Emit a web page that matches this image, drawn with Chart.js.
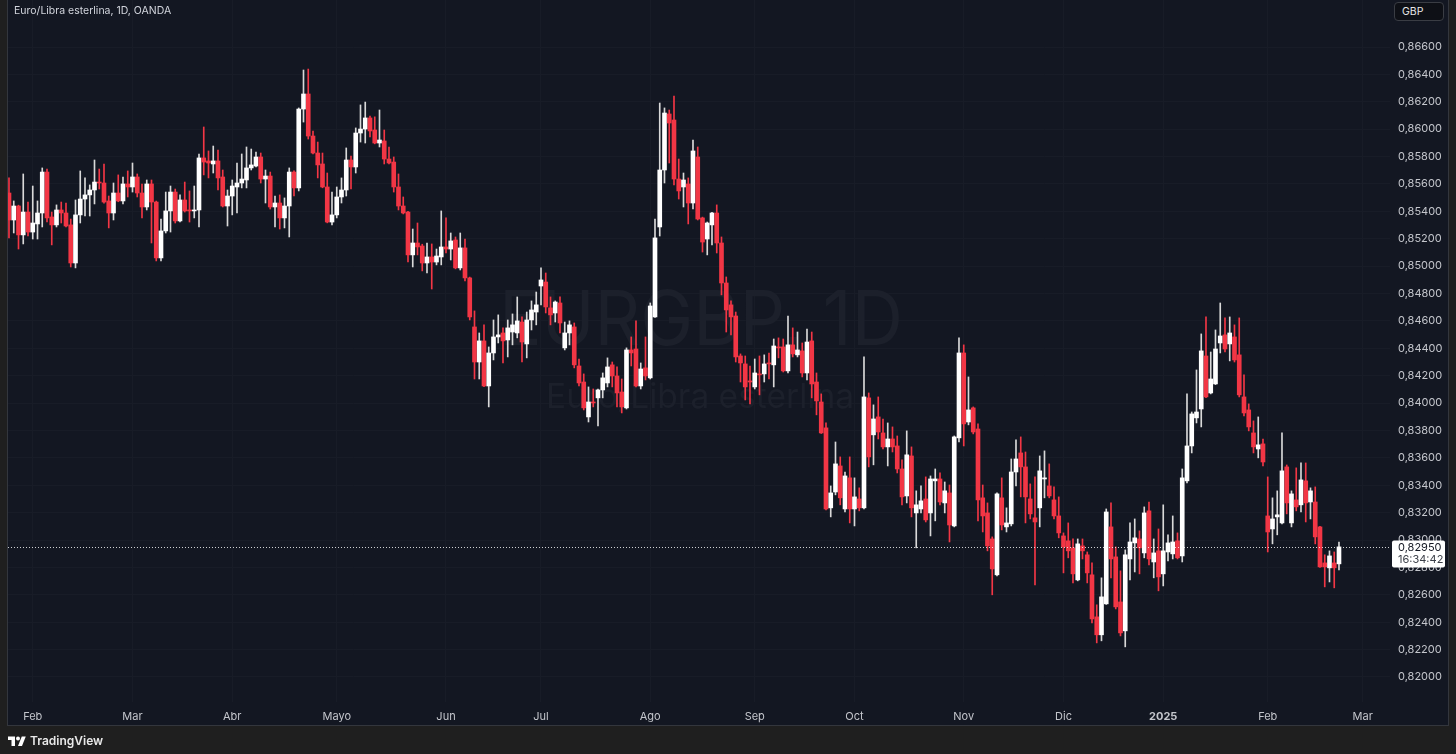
<!DOCTYPE html>
<html>
<head>
<meta charset="utf-8">
<title>EURGBP 1D</title>
<script src="https://cdn.jsdelivr.net/npm/chart.js@4.4.1/dist/chart.umd.min.js"></script>
<style>
  html, body { margin: 0; padding: 0; background: #1f1f1f; overflow: hidden; }
  #wrap { position: relative; width: 1456px; height: 754px; }
  #chart { position: absolute; left: 0; top: 0; }
  #title { position: absolute; left: 14px; top: 4px; font: 10.5px Inter, sans-serif; color: #d1d4dc; }
  #currency { position: absolute; left: 1394px; top: 2px; width: 50px; height: 19px; box-sizing: border-box;
              border: 1px solid #3a3d44; border-radius: 4px; background: #0e1016; color: #e6e6e6;
              font: 10.5px Inter, sans-serif; line-height: 17px; padding-left: 7px; }
  #brand { position: absolute; left: 8px; top: 733px; font: 600 12px Inter, sans-serif; color: #e8e8e8;
           display: flex; align-items: center; gap: 4px; }
</style>
</head>
<body>
<div id="wrap">
  <canvas id="chart" width="1456" height="754"></canvas>
  <div id="title">Euro/Libra esterlina, 1D, OANDA</div>
  <div id="currency">GBP</div>
  <div id="brand">
    <svg width="18" height="12" viewBox="0 0 36 24"><path d="M14 22H7V10H0V3h14v19z" fill="#fff"/><circle cx="20" cy="7" r="4" fill="#fff"/><path d="M28 22h-8l7.5-19h8L28 22z" fill="#fff"/></svg>
    <span>TradingView</span>
  </div>
</div>
<script>
// Daily candles, 25 Jan 2024 -> 24 Feb 2025 (OANDA EURGBP)
const opens = [
  0.85534, 0.85337, 0.85439, 0.85228, 0.85395, 0.85249, 0.85308, 0.85388, 0.85687, 0.85359,
  0.85301, 0.85410, 0.85388, 0.85301, 0.85023, 0.85374, 0.85490, 0.85520, 0.85556, 0.85614,
  0.85607, 0.85476, 0.85388, 0.85534, 0.85476, 0.85600, 0.85578, 0.85651, 0.85534, 0.85432,
  0.85600, 0.85468, 0.85060, 0.85257, 0.85403, 0.85541, 0.85330, 0.85483, 0.85410, 0.85403,
  0.85410, 0.85790, 0.85768, 0.85746, 0.85768, 0.85651, 0.85439, 0.85512, 0.85578, 0.85607,
  0.85629, 0.85717, 0.85731, 0.85797, 0.85636, 0.85658, 0.85432, 0.85461, 0.85352, 0.85439,
  0.85687, 0.85571, 0.86147, 0.86257, 0.85950, 0.85826, 0.85746, 0.85578, 0.85322, 0.85374,
  0.85505, 0.85556, 0.85775, 0.85724, 0.85972, 0.86001, 0.86082, 0.85994, 0.85899, 0.85914,
  0.85782, 0.85760, 0.85578, 0.85439, 0.85395, 0.85082, 0.85169, 0.85147, 0.85023, 0.85067,
  0.85030, 0.85067, 0.85140, 0.85125, 0.85191, 0.84987, 0.85133, 0.84914, 0.84556, 0.84300,
  0.84454, 0.84125, 0.84366, 0.84483, 0.84512, 0.84461, 0.84519, 0.84512, 0.84592, 0.84432,
  0.84607, 0.84665, 0.84855, 0.84884, 0.84695, 0.84658, 0.84731, 0.84403, 0.84512, 0.84556,
  0.84271, 0.84154, 0.83899, 0.84008, 0.84038, 0.84096, 0.84147, 0.84279, 0.84198, 0.84081,
  0.83965, 0.84388, 0.84395, 0.84125, 0.84257, 0.84184, 0.84629, 0.85286, 0.85702, 0.86111,
  0.86067, 0.85636, 0.85578, 0.85600, 0.85461, 0.85797, 0.85352, 0.85198, 0.85301, 0.85388,
  0.85169, 0.84877, 0.84717, 0.84636, 0.84344, 0.84286, 0.84162, 0.84118, 0.84213, 0.84213,
  0.84293, 0.84279, 0.84410, 0.84410, 0.84235, 0.84425, 0.84352, 0.84381, 0.84220, 0.84454,
  0.84154, 0.84008, 0.83819, 0.83235, 0.83351, 0.83541, 0.83227, 0.83454, 0.83227, 0.83300,
  0.83235, 0.84038, 0.83768, 0.83899, 0.83782, 0.83680, 0.83738, 0.83687, 0.83519, 0.83322,
  0.83614, 0.83198, 0.83227, 0.83300, 0.83198, 0.83432, 0.83446, 0.83271, 0.83344, 0.83103,
  0.83746, 0.84366, 0.83862, 0.83965, 0.83811, 0.83308, 0.83198, 0.83008, 0.82746, 0.83308,
  0.83096, 0.83118, 0.83497, 0.83636, 0.83534, 0.83300, 0.83162, 0.83235, 0.83446, 0.83395,
  0.83293, 0.83176, 0.83030, 0.82994, 0.82943, 0.82709, 0.82957, 0.82892, 0.82746, 0.82439,
  0.82308, 0.82534, 0.83096, 0.82877, 0.82548, 0.82337, 0.82862, 0.82979, 0.83008, 0.82906,
  0.83213, 0.82840, 0.82921, 0.82753, 0.82913, 0.82899, 0.82994, 0.82884, 0.83432, 0.83687,
  0.83892, 0.83957, 0.84344, 0.84074, 0.84140, 0.84439, 0.84498, 0.84432, 0.84483, 0.84352,
  0.84045, 0.83950, 0.83782, 0.83665, 0.83702, 0.83176, 0.83081, 0.83169, 0.83125, 0.83534,
  0.83125, 0.83293, 0.83257, 0.83432, 0.83278, 0.83278, 0.83096, 0.82833, 0.82797, 0.82833,
  0.82826
];
const highs = [
  0.85644, 0.85476, 0.85445, 0.85673, 0.85468, 0.85585, 0.85476, 0.85717, 0.85709, 0.85395,
  0.85447, 0.85468, 0.85461, 0.85344, 0.85483, 0.85695, 0.85644, 0.85593, 0.85775, 0.85709,
  0.85746, 0.85512, 0.85607, 0.85666, 0.85651, 0.85695, 0.85753, 0.85673, 0.85600, 0.85629,
  0.85629, 0.85475, 0.85344, 0.85541, 0.85585, 0.85563, 0.85520, 0.85614, 0.85549, 0.85585,
  0.85819, 0.86016, 0.85841, 0.85877, 0.85848, 0.85702, 0.85556, 0.85629, 0.85753, 0.85819,
  0.85870, 0.85855, 0.85833, 0.85826, 0.85702, 0.85687, 0.85512, 0.85520, 0.85498, 0.85717,
  0.85695, 0.86155, 0.86432, 0.86439, 0.85987, 0.85906, 0.85826, 0.85680, 0.85541, 0.85578,
  0.85644, 0.85863, 0.85804, 0.86009, 0.86177, 0.86198, 0.86096, 0.86090, 0.86140, 0.85994,
  0.85870, 0.85797, 0.85673, 0.85505, 0.85400, 0.85271, 0.85315, 0.85160, 0.85169, 0.85162,
  0.85125, 0.85403, 0.85352, 0.85242, 0.85213, 0.85242, 0.85198, 0.84920, 0.84673, 0.84512,
  0.84571, 0.84410, 0.84607, 0.84644, 0.84549, 0.84607, 0.84651, 0.84775, 0.84629, 0.84665,
  0.84746, 0.84811, 0.84987, 0.84950, 0.84775, 0.84746, 0.84775, 0.84592, 0.84600, 0.84585,
  0.84322, 0.84213, 0.84118, 0.84103, 0.84103, 0.84220, 0.84330, 0.84300, 0.84264, 0.84176,
  0.84403, 0.84483, 0.84600, 0.84293, 0.84483, 0.84731, 0.85344, 0.86191, 0.86155, 0.86140,
  0.86242, 0.85782, 0.85680, 0.85644, 0.85921, 0.85870, 0.85358, 0.85322, 0.85392, 0.85447,
  0.85213, 0.84921, 0.84746, 0.84665, 0.84359, 0.84344, 0.84271, 0.84322, 0.84344, 0.84352,
  0.84366, 0.84468, 0.84476, 0.84468, 0.84636, 0.84549, 0.84519, 0.84439, 0.84541, 0.84519,
  0.84220, 0.84067, 0.83855, 0.83395, 0.83716, 0.83607, 0.83497, 0.83607, 0.83454, 0.83381,
  0.84337, 0.84074, 0.83987, 0.84045, 0.83884, 0.83855, 0.83826, 0.83760, 0.83585, 0.83797,
  0.83680, 0.83359, 0.83395, 0.83461, 0.83468, 0.83519, 0.83490, 0.83424, 0.83402, 0.83760,
  0.84476, 0.84425, 0.84191, 0.83972, 0.83848, 0.83402, 0.83271, 0.83023, 0.83344, 0.83454,
  0.83235, 0.83592, 0.83731, 0.83753, 0.83643, 0.83410, 0.83461, 0.83614, 0.83651, 0.83556,
  0.83388, 0.83315, 0.83052, 0.83125, 0.83008, 0.83008, 0.83008, 0.82913, 0.82833, 0.82527,
  0.82724, 0.83227, 0.83271, 0.82950, 0.82775, 0.82928, 0.83125, 0.83154, 0.83067, 0.83242,
  0.83278, 0.83008, 0.83081, 0.83257, 0.83038, 0.83176, 0.83052, 0.83519, 0.84067, 0.83935,
  0.84242, 0.84505, 0.84629, 0.84373, 0.84534, 0.84731, 0.84622, 0.84629, 0.84571, 0.84622,
  0.84206, 0.83994, 0.83870, 0.83899, 0.83738, 0.83461, 0.83308, 0.83359, 0.83782, 0.83548,
  0.83359, 0.83527, 0.83563, 0.83563, 0.83381, 0.83388, 0.83100, 0.82892, 0.82921, 0.82913,
  0.82986
];
const lows = [
  0.85206, 0.85242, 0.85125, 0.85162, 0.85220, 0.85198, 0.85198, 0.85286, 0.85322, 0.85155,
  0.85286, 0.85315, 0.85286, 0.84994, 0.84987, 0.85315, 0.85366, 0.85366, 0.85454, 0.85563,
  0.85460, 0.85279, 0.85337, 0.85470, 0.85454, 0.85505, 0.85541, 0.85505, 0.85352, 0.85410,
  0.85169, 0.85038, 0.85038, 0.85242, 0.85249, 0.85315, 0.85322, 0.85395, 0.85322, 0.85352,
  0.85286, 0.85666, 0.85644, 0.85680, 0.85556, 0.85432, 0.85293, 0.85374, 0.85388, 0.85571,
  0.85571, 0.85702, 0.85725, 0.85607, 0.85461, 0.85417, 0.85286, 0.85271, 0.85279, 0.85213,
  0.85512, 0.85549, 0.86052, 0.85928, 0.85820, 0.85644, 0.85572, 0.85316, 0.85301, 0.85352,
  0.85461, 0.85512, 0.85563, 0.85680, 0.85906, 0.85899, 0.85943, 0.85893, 0.85870, 0.85746,
  0.85746, 0.85541, 0.85410, 0.85381, 0.85030, 0.84994, 0.85082, 0.84965, 0.84950, 0.84833,
  0.85009, 0.85009, 0.85096, 0.85045, 0.84980, 0.84972, 0.84892, 0.84607, 0.84176, 0.84176,
  0.84120, 0.83972, 0.84315, 0.84439, 0.84293, 0.84337, 0.84425, 0.84476, 0.84300, 0.84330,
  0.84534, 0.84571, 0.84717, 0.84658, 0.84571, 0.84592, 0.84512, 0.84388, 0.84425, 0.84257,
  0.84125, 0.83950, 0.83862, 0.83972, 0.83833, 0.84038, 0.84118, 0.84118, 0.83972, 0.83928,
  0.83957, 0.84271, 0.84118, 0.84103, 0.84169, 0.84176, 0.84625, 0.85220, 0.85607, 0.85753,
  0.85593, 0.85490, 0.85432, 0.85308, 0.85417, 0.85337, 0.85103, 0.85082, 0.85155, 0.85096,
  0.84790, 0.84519, 0.84498, 0.84300, 0.84154, 0.84023, 0.83994, 0.84103, 0.84060, 0.84154,
  0.84176, 0.84118, 0.84330, 0.84227, 0.84220, 0.84337, 0.84337, 0.84191, 0.84169, 0.84038,
  0.83914, 0.83778, 0.83220, 0.83169, 0.83330, 0.83257, 0.83205, 0.83125, 0.83103, 0.83213,
  0.83227, 0.83534, 0.83549, 0.83738, 0.83665, 0.83541, 0.83643, 0.83490, 0.83257, 0.83271,
  0.83169, 0.82943, 0.83198, 0.83132, 0.83030, 0.83140, 0.83257, 0.83198, 0.82986, 0.83096,
  0.83716, 0.83687, 0.83841, 0.83775, 0.83140, 0.83059, 0.82921, 0.82600, 0.82738, 0.83074,
  0.83059, 0.83103, 0.83395, 0.83315, 0.83125, 0.83154, 0.82673, 0.83096, 0.83308, 0.83308,
  0.83154, 0.83016, 0.82760, 0.82870, 0.82687, 0.82702, 0.82862, 0.82687, 0.82395, 0.82249,
  0.82264, 0.82530, 0.82724, 0.82497, 0.82300, 0.82220, 0.82709, 0.82767, 0.82753, 0.82870,
  0.82819, 0.82724, 0.82629, 0.82665, 0.82848, 0.82862, 0.82862, 0.82840, 0.83417, 0.83636,
  0.83855, 0.83826, 0.84040, 0.84067, 0.84135, 0.84366, 0.84373, 0.84308, 0.84300, 0.84045,
  0.83906, 0.83797, 0.83636, 0.83600, 0.83541, 0.82913, 0.82972, 0.83038, 0.83118, 0.83191,
  0.83096, 0.83213, 0.83205, 0.83132, 0.83154, 0.82972, 0.82800, 0.82658, 0.82694, 0.82651,
  0.82782
];
const closes = [
  0.85337, 0.85439, 0.85228, 0.85395, 0.85249, 0.85315, 0.85388, 0.85687, 0.85352, 0.85301,
  0.85410, 0.85388, 0.85293, 0.85023, 0.85374, 0.85490, 0.85520, 0.85556, 0.85614, 0.85607,
  0.85468, 0.85388, 0.85534, 0.85476, 0.85600, 0.85578, 0.85651, 0.85534, 0.85432, 0.85600,
  0.85468, 0.85060, 0.85257, 0.85403, 0.85541, 0.85330, 0.85483, 0.85403, 0.85403, 0.85410,
  0.85790, 0.85760, 0.85753, 0.85768, 0.85644, 0.85439, 0.85512, 0.85585, 0.85607, 0.85636,
  0.85717, 0.85739, 0.85797, 0.85636, 0.85658, 0.85432, 0.85461, 0.85352, 0.85439, 0.85687,
  0.85571, 0.86147, 0.86257, 0.85950, 0.85826, 0.85739, 0.85578, 0.85322, 0.85374, 0.85505,
  0.85556, 0.85775, 0.85724, 0.85972, 0.86001, 0.86082, 0.85987, 0.85899, 0.85921, 0.85782,
  0.85753, 0.85578, 0.85439, 0.85388, 0.85082, 0.85169, 0.85140, 0.85023, 0.85067, 0.85030,
  0.85074, 0.85140, 0.85125, 0.85184, 0.84987, 0.85133, 0.84914, 0.84629, 0.84300, 0.84454,
  0.84125, 0.84366, 0.84483, 0.84498, 0.84454, 0.84549, 0.84571, 0.84600, 0.84446, 0.84607,
  0.84680, 0.84717, 0.84899, 0.84702, 0.84644, 0.84738, 0.84585, 0.84512, 0.84571, 0.84279,
  0.84147, 0.83965, 0.84008, 0.84001, 0.84096, 0.84184, 0.84264, 0.84198, 0.84074, 0.83972,
  0.84388, 0.84366, 0.84125, 0.84249, 0.84198, 0.84709, 0.85206, 0.85702, 0.86118, 0.86045,
  0.85636, 0.85549, 0.85629, 0.85461, 0.85841, 0.85344, 0.85176, 0.85315, 0.85388, 0.85169,
  0.84877, 0.84680, 0.84629, 0.84337, 0.84293, 0.84118, 0.84154, 0.84220, 0.84206, 0.84286,
  0.84286, 0.84417, 0.84403, 0.84235, 0.84425, 0.84359, 0.84388, 0.84220, 0.84446, 0.84140,
  0.84016, 0.83782, 0.83227, 0.83344, 0.83556, 0.83308, 0.83468, 0.83227, 0.83315, 0.83235,
  0.84045, 0.83607, 0.83884, 0.83789, 0.83680, 0.83738, 0.83680, 0.83519, 0.83315, 0.83622,
  0.83235, 0.83257, 0.83286, 0.83147, 0.83446, 0.83446, 0.83278, 0.83359, 0.83110, 0.83753,
  0.84366, 0.83848, 0.83950, 0.83789, 0.83293, 0.83176, 0.82957, 0.82789, 0.83337, 0.83110,
  0.83125, 0.83497, 0.83592, 0.83534, 0.83315, 0.83191, 0.83132, 0.83505, 0.83454, 0.83322,
  0.83176, 0.83052, 0.82950, 0.82921, 0.82753, 0.82972, 0.82921, 0.82760, 0.82424, 0.82308,
  0.82585, 0.83205, 0.82862, 0.82512, 0.82322, 0.82892, 0.82986, 0.83016, 0.82943, 0.83198,
  0.82862, 0.82906, 0.82731, 0.82921, 0.82979, 0.82986, 0.82870, 0.83454, 0.83687, 0.83921,
  0.83935, 0.84381, 0.84045, 0.84176, 0.84395, 0.84490, 0.84395, 0.84512, 0.84315, 0.84060,
  0.83928, 0.83826, 0.83680, 0.83695, 0.83570, 0.83059, 0.83154, 0.83184, 0.83505, 0.83271,
  0.83337, 0.83242, 0.83439, 0.83271, 0.83359, 0.83023, 0.82804, 0.82804, 0.82884, 0.82797,
  0.82950
];

// time axis: month labels and the bar index where each month starts
const monthTickLabels = ['Feb', 'Mar', 'Abr', 'Mayo', 'Jun', 'Jul', 'Ago', 'Sep', 'Oct', 'Nov', 'Dic', '2025', 'Feb', 'Mar'];
const monthTickIndex = [5, 26, 47, 69, 92, 112, 135, 157, 178, 201, 222, 243, 265, 285];

// price axis
const priceTicks = [0.820, 0.822, 0.824, 0.826, 0.828, 0.830, 0.832, 0.834, 0.836, 0.838, 0.840, 0.842,
                    0.844, 0.846, 0.848, 0.850, 0.852, 0.854, 0.856, 0.858, 0.860, 0.862, 0.864, 0.866];

const lastPrice = 0.82950;
const countdown = '16:34:42';

const UP = '#ffffff', UP_WICK = '#d9d9d9', DOWN = '#f23645';
const BG = '#131722', FRAME = '#1f1f1f', GRID = '#181c27', TEXT = '#c4c6cc';

Chart.defaults.font.family = 'Inter, "Noto Sans", sans-serif';

const idx = closes.map((c, i) => i);
const isUp = i => closes[i] >= opens[i];

const fmt = v => v.toFixed(5).replace('.', ',');

const tvPanel = {
  id: 'tvPanel',
  beforeDraw(chart) {
    const c = chart.ctx;
    c.save();
    c.fillStyle = FRAME;
    c.fillRect(0, 0, chart.width, chart.height);
    c.fillStyle = BG;
    c.fillRect(8, 0, 1440, 725);
    c.strokeStyle = '#33363d';
    c.lineWidth = 1;
    c.strokeRect(7.5, -1, 1441, 726.5);
    c.restore();
  },
  beforeDatasetsDraw(chart) {
    // symbol watermark
    const c = chart.ctx;
    c.save();
    c.fillStyle = '#1c202b';
    c.textAlign = 'center';
    c.textBaseline = 'alphabetic';
    c.font = '76px Inter, sans-serif';
    c.fillText('EURGBP, 1D', 701, 345, 404);
    c.font = '34px Inter, sans-serif';
    c.fillText('Euro/Libra esterlina', 700, 408, 308);
    c.restore();
  },
  afterDatasetsDraw(chart) {
    const c = chart.ctx, a = chart.chartArea;
    const y = Math.round(chart.scales.y.getPixelForValue(lastPrice)) + 0.5;
    c.save();
    c.strokeStyle = 'rgba(255,255,255,0.8)';
    c.lineWidth = 1;
    c.setLineDash([1, 2]);
    c.beginPath();
    c.moveTo(a.left, y);
    c.lineTo(a.right, y);
    c.stroke();
    c.setLineDash([]);
    // last price tag
    c.fillStyle = '#ffffff';
    c.beginPath();
    c.roundRect(1392, y - 7, 53, 27, 2);
    c.fill();
    c.fillStyle = '#131722';
    c.font = '11px Inter, sans-serif';
    c.textAlign = 'left';
    c.textBaseline = 'middle';
    c.fillText(fmt(lastPrice), 1398, y);
    c.fillStyle = '#3b3f48';
    c.fillText(countdown, 1398, y + 12);
    c.restore();
  }
};

new Chart(document.getElementById('chart'), {
  type: 'bar',
  data: {
    datasets: [
      {
        label: 'wick',
        data: idx.map(i => ({ x: i, y: [lows[i], highs[i]] })),
        backgroundColor: idx.map(i => isUp(i) ? UP_WICK : DOWN),
        barThickness: 1,
        grouped: false,
        order: 2
      },
      {
        label: 'body',
        data: idx.map(i => ({ x: i, y: [opens[i], closes[i]] })),
        backgroundColor: idx.map(i => isUp(i) ? UP : DOWN),
        barThickness: 4,
        minBarLength: 1,
        grouped: false,
        order: 1
      }
    ]
  },
  options: {
    responsive: false,
    animation: false,
    events: [],
    layout: { padding: { left: 8, right: 8, top: 0, bottom: 29 } },
    plugins: { legend: { display: false }, tooltip: { enabled: false } },
    scales: {
      x: {
        type: 'linear',
        offset: false,
        min: -0.21,
        max: 290.74,
        afterBuildTicks: scale => { scale.ticks = monthTickIndex.map(v => ({ value: v })); },
        afterFit: scale => { scale.height = 23; scale.paddingLeft = 0; scale.paddingRight = 0; },
        grid: { color: GRID, drawTicks: false, offset: false },
        border: { display: false },
        ticks: {
          autoSkip: false,
          maxRotation: 0,
          padding: 8,
          color: TEXT,
          font: ctx => ({ size: 11, weight: monthTickLabels[ctx.index] === '2025' ? 'bold' : 'normal' }),
          callback: v => monthTickLabels[monthTickIndex.indexOf(v)]
        }
      },
      y: {
        position: 'right',
        beginAtZero: false,
        min: 0.818174,
        max: 0.869432,
        afterBuildTicks: scale => { scale.ticks = priceTicks.map(v => ({ value: v })); },
        afterFit: scale => { scale.width = 58; scale.paddingTop = 0; scale.paddingBottom = 0; },
        grid: { color: GRID, drawTicks: false },
        border: { display: false },
        ticks: {
          padding: 8,
          color: TEXT,
          font: { size: 11 },
          callback: v => fmt(v)
        }
      }
    }
  },
  plugins: [tvPanel]
});
</script>
</body>
</html>
